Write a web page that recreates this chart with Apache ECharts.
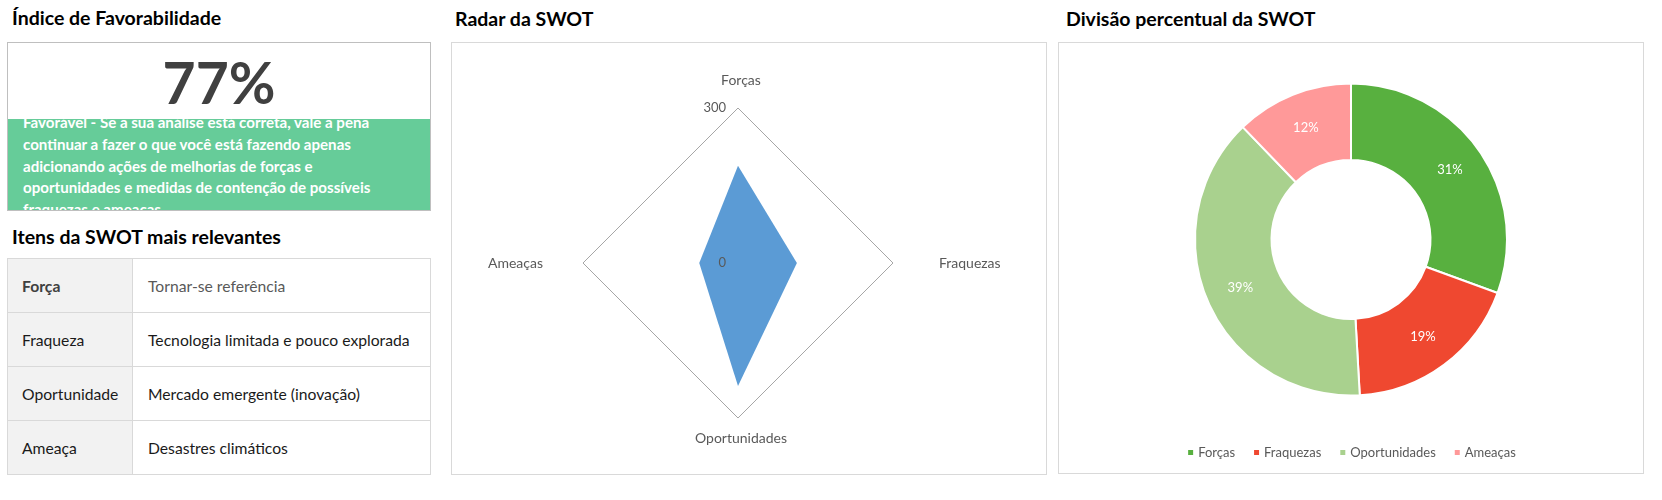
<!DOCTYPE html>
<html>
<head>
<meta charset="utf-8">
<script src="https://cdn.jsdelivr.net/npm/echarts@6/dist/echarts.min.js"></script>
<style>
html,body{margin:0;padding:0;width:1662px;height:500px;overflow:hidden;background:#fff;font-family:Lato,"Noto Sans",sans-serif;}
.t{position:absolute;font-weight:700;font-size:19.5px;line-height:24px;color:#000;white-space:nowrap;}
.box{position:absolute;border:1px solid #D9D9D9;box-sizing:border-box;background:#fff;}
#idx{left:7px;top:42px;width:424px;height:169px;border-color:#BFBFBF;}
#big{position:absolute;left:0;top:0;width:100%;height:76px;text-align:center;font-weight:700;font-size:57px;line-height:78px;color:#404040;}
#green{position:absolute;left:0;top:76px;width:100%;height:91px;box-sizing:border-box;padding-top:4px;background:#66CC99;overflow:hidden;display:flex;flex-direction:column;justify-content:center;}
#green div{padding-left:15px;color:#fff;font-weight:700;font-size:15.1px;line-height:21.7px;white-space:nowrap;flex:none;}
#tbl{position:absolute;left:7px;top:258px;border-collapse:collapse;width:424px;}
#tbl td{border:1px solid #D9D9D9;height:53px;padding:0;font-size:15.7px;color:#1a1a1a;}
#tbl td.k{background:#F2F2F2;width:125px;padding-left:14px;box-sizing:border-box;}
#tbl td.v{padding-left:15px;}
#radarBox{left:451px;top:42px;width:596px;height:433px;}
#pieBox{left:1058px;top:42px;width:586px;height:432px;}
.chart{position:absolute;}
</style>
</head>
<body>
<div class="t" style="left:12px;top:6px;">Índice de Favorabilidade</div>
<div class="box" id="idx">
  <div id="big"></div>
  <div id="green"></div>
</div>
<div class="t" style="left:12px;top:225px;">Itens da SWOT mais relevantes</div>
<table id="tbl"></table>

<div class="t" style="left:455px;top:7px;">Radar da SWOT</div>
<div class="box" id="radarBox"></div>
<div class="t" style="left:1066px;top:7px;">Divisão percentual da SWOT</div>
<div class="box" id="pieBox"></div>

<div class="chart" id="radarChart" style="left:451px;top:42px;width:596px;height:433px;"></div>
<div class="chart" id="pieChart" style="left:1058px;top:42px;width:586px;height:432px;"></div>

<script>
// ---- data ----
const favorabilityIndex = '77%';
const favorabilityLines = [
  'Favorável - Se a sua análise está correta, vale a pena',
  'continuar a fazer o que você está fazendo apenas',
  'adicionando ações de melhorias de forças e',
  'oportunidades e medidas de contenção de possíveis',
  'fraquezas e ameaças.'
];
const tableKeys = ['Força', 'Fraqueza', 'Oportunidade', 'Ameaça'];
const tableItems = ['Tornar-se referência', 'Tecnologia limitada e pouco explorada', 'Mercado emergente (inovação)', 'Desastres climáticos'];
const categories = ['Forças', 'Fraquezas', 'Oportunidades', 'Ameaças'];
const swotValues = [188, 114, 238, 75];
const radarTicks = [0, 300];

// ---- left panel ----
document.getElementById('big').textContent = favorabilityIndex;
const g = document.getElementById('green');
favorabilityLines.forEach(l => { const d = document.createElement('div'); d.textContent = l; g.appendChild(d); });
const tbl = document.getElementById('tbl');
tableKeys.forEach((k, i) => {
  const tr = document.createElement('tr');
  const a = document.createElement('td'); a.className = 'k'; a.textContent = k;
  const b = document.createElement('td'); b.className = 'v'; b.textContent = tableItems[i];
  if (i === 0) { a.style.fontWeight = '700'; a.style.color = '#404040'; b.style.color = '#595959'; }
  tr.appendChild(a); tr.appendChild(b); tbl.appendChild(tr);
});

// ---- radar ----
const radarOrder = [0, 3, 2, 1]; // ECharts places indicators counter-clockwise
const radarChart = echarts.init(document.getElementById('radarChart'), null, {renderer: 'canvas'});
radarChart.setOption({
  animation: false,
  radar: {
    z: 3,
    center: [287, 221],
    radius: 155,
    startAngle: 90,
    shape: 'polygon',
    splitNumber: 1,
    nameGap: 13,
    indicator: radarOrder.map((ci, j) => ({
      name: categories[ci], min: radarTicks[0], max: radarTicks[1],
      axisLabel: {show: j === 0}
    })),
    axisName: {color: '#595959', fontSize: 14, fontFamily: 'Lato', padding: [0, 27, 8, 33]},
    axisLine: {show: false},
    axisTick: {show: false},
    axisLabel: {show: true, color: '#595959', fontSize: 13, fontFamily: 'Lato', margin: 12},
    splitLine: {lineStyle: {color: '#A6A6A6', width: 1}},
    splitArea: {show: false}
  },
  series: [{
    type: 'radar',
    symbol: 'none',
    lineStyle: {width: 0},
    areaStyle: {color: '#5B9BD5', opacity: 1},
    itemStyle: {color: '#5B9BD5'},
    data: [{name: 'SWOT', value: radarOrder.map(ci => swotValues[ci])}]
  }]
});

// ---- pie ----
const pieChart = echarts.init(document.getElementById('pieChart'), null, {renderer: 'canvas'});
pieChart.setOption({
  animation: false,
  color: ['#58B03F', '#EF4830', '#A9D18E', '#FF9999'],
  legend: {
    data: categories,
    left: 'center',
    top: 399,
    icon: 'rect',
    itemWidth: 7,
    itemHeight: 7,
    itemGap: 17,
    textStyle: {color: '#595959', fontSize: 13, fontFamily: 'Lato', padding: [0, 0, 0, -1]}
  },
  series: [{
    type: 'pie',
    center: [293, 197.5],
    radius: [79.5, 156],
    startAngle: 90,
    clockwise: true,
    percentPrecision: 2,
    itemStyle: {borderColor: '#fff', borderWidth: 2},
    label: {position: 'inside', color: '#fff', fontSize: 13, fontFamily: 'Lato',
      formatter: p => Math.round(p.percent) + '%'},
    labelLine: {show: false},
    emphasis: {disabled: true},
    data: categories.map((c, i) => ({name: c, value: swotValues[i]}))
  }]
});
</script>
</body>
</html>
